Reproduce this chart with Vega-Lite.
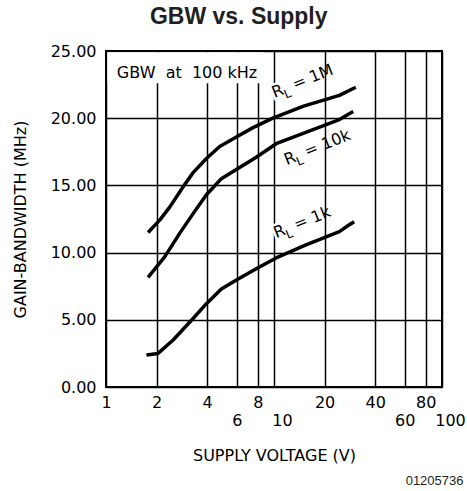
{
  "$schema": "https://vega.github.io/schema/vega-lite/v6.json",
  "width": 336,
  "height": 336,
  "autosize": {"type": "none"},
  "padding": {"left": 106, "top": 51, "right": 25, "bottom": 104},
  "background": "white",
  "title": {"text": "GBW vs. Supply", "font": "Liberation Sans", "fontSize": 23, "fontWeight": "bold", "color": "#231f20", "anchor": "middle", "frame": "bounds", "offset": 14},
  "config": {"view": {"stroke": "black", "strokeWidth": 2}, "font": "DejaVu Sans"},
  "datasets": {
    "curves": [
      {"RL": "1M", "v": 1.78, "gbw": 11.5},
      {"RL": "1M", "v": 2.1, "gbw": 12.45},
      {"RL": "1M", "v": 2.4, "gbw": 13.4},
      {"RL": "1M", "v": 2.88, "gbw": 14.9},
      {"RL": "1M", "v": 3.3, "gbw": 15.95},
      {"RL": "1M", "v": 3.96, "gbw": 17.0},
      {"RL": "1M", "v": 4.75, "gbw": 17.9},
      {"RL": "1M", "v": 5.97, "gbw": 18.6},
      {"RL": "1M", "v": 7.5, "gbw": 19.3},
      {"RL": "1M", "v": 9.84, "gbw": 20.0},
      {"RL": "1M", "v": 15.0, "gbw": 20.9},
      {"RL": "1M", "v": 24.5, "gbw": 21.7},
      {"RL": "1M", "v": 30.7, "gbw": 22.3},
      {"RL": "10k", "v": 1.78, "gbw": 8.16},
      {"RL": "10k", "v": 2.24, "gbw": 9.7},
      {"RL": "10k", "v": 2.75, "gbw": 11.45},
      {"RL": "10k", "v": 3.3, "gbw": 12.9},
      {"RL": "10k", "v": 3.96, "gbw": 14.3},
      {"RL": "10k", "v": 4.86, "gbw": 15.5},
      {"RL": "10k", "v": 7.84, "gbw": 17.1},
      {"RL": "10k", "v": 10.3, "gbw": 18.1},
      {"RL": "10k", "v": 24.5, "gbw": 19.9},
      {"RL": "10k", "v": 29.6, "gbw": 20.5},
      {"RL": "1k", "v": 1.74, "gbw": 2.38},
      {"RL": "1k", "v": 2.04, "gbw": 2.5},
      {"RL": "1k", "v": 2.51, "gbw": 3.5},
      {"RL": "1k", "v": 3.3, "gbw": 5.1},
      {"RL": "1k", "v": 3.96, "gbw": 6.2},
      {"RL": "1k", "v": 4.86, "gbw": 7.3},
      {"RL": "1k", "v": 5.97, "gbw": 7.96},
      {"RL": "1k", "v": 7.84, "gbw": 8.8},
      {"RL": "1k", "v": 10.3, "gbw": 9.6},
      {"RL": "1k", "v": 15.5, "gbw": 10.57},
      {"RL": "1k", "v": 24.5, "gbw": 11.56},
      {"RL": "1k", "v": 27.5, "gbw": 12.0},
      {"RL": "1k", "v": 30.0, "gbw": 12.3}
    ],
    "labels": [
      {"label": "= 1M", "v": 10.07, "gbw": 21.5},
      {"label": "= 10k", "v": 11.9, "gbw": 16.5},
      {"label": "= 1k", "v": 10.3, "gbw": 11.06}
    ],
    "note": [{"text": "GBW\u00a0 at\u00a0 100 kHz", "v": 1.16, "gbw": 23.0}],
    "box": [{"v": 1.02, "v2": 8.7, "gbw": 22.6, "gbw2": 24.9}]
  },
  "resolve": {"axis": {"x": "independent"}},
  "layer": [
    {
      "data": {"name": "box"},
      "mark": {"type": "rect", "fill": "white"},
      "encoding": {
        "x": {
          "field": "v", "type": "quantitative",
          "scale": {"type": "log", "domain": [1, 100], "nice": false},
          "axis": {
            "values": [1, 2, 4, 6, 8, 10, 20, 40, 60, 80, 100],
            "labelExpr": "datum.value",
            "grid": true, "gridColor": "black", "gridWidth": 1.5, "gridOpacity": 1,
            "ticks": false, "domain": false,
            "labelFont": "DejaVu Sans", "labelFontSize": 16, "labelColor": "black",
            "labelPadding": {"condition": {"test": "indexof([6,10,60,100], datum.value) >= 0", "value": 25}, "value": 7},
            "labelOffset": {"condition": {"test": "datum.value == 10 || datum.value == 100", "value": 8}, "value": 0},
            "labelFlush": false, "labelOverlap": false, "labelBound": false,
            "title": "SUPPLY VOLTAGE (V)", "titleFont": "DejaVu Sans", "titleFontSize": 16,
            "titleFontWeight": "normal", "titleColor": "black", "titlePadding": 19
          }
        },
        "x2": {"field": "v2"},
        "y": {
          "field": "gbw", "type": "quantitative",
          "scale": {"domain": [0, 25], "nice": false},
          "axis": {
            "values": [0, 5, 10, 15, 20, 25], "format": ".2f",
            "grid": true, "gridColor": "black", "gridWidth": 1.5, "gridOpacity": 1,
            "ticks": false, "domain": false,
            "labelFont": "DejaVu Sans", "labelFontSize": 16, "labelColor": "black", "labelPadding": 10,
            "title": "GAIN-BANDWIDTH (MHz)", "titleFont": "DejaVu Sans", "titleFontSize": 16,
            "titleFontWeight": "normal", "titleColor": "black", "titlePadding": 22
          }
        },
        "y2": {"field": "gbw2"}
      }
    },
    {
      "data": {"name": "curves"},
      "mark": {"type": "line", "color": "black", "strokeWidth": 3.5, "interpolate": "linear", "strokeJoin": "round"},
      "encoding": {
        "x": {"field": "v", "type": "quantitative", "axis": null},
        "y": {"field": "gbw", "type": "quantitative"},
        "detail": {"field": "RL"}
      }
    },
    {
      "data": {"name": "note"},
      "mark": {"type": "text", "align": "left", "baseline": "alphabetic", "font": "DejaVu Sans", "fontSize": 16, "color": "black"},
      "encoding": {
        "x": {
          "field": "v", "type": "quantitative",
          "axis": {
            "orient": "bottom", "labels": false, "ticks": false, "domain": false, "grid": false,
            "title": "01205736", "titleFont": "Liberation Sans", "titleFontSize": 13,
            "titleFontWeight": "normal", "titleColor": "#231f20",
            "titleX": 357, "titleY": 97, "titleAlign": "right", "titleBaseline": "alphabetic"
          }
        },
        "y": {"field": "gbw", "type": "quantitative"},
        "text": {"field": "text"}
      }
    },
    {
      "data": {"name": "labels"},
      "mark": {"type": "text", "align": "left", "baseline": "alphabetic", "font": "DejaVu Sans", "fontSize": 16, "angle": -22, "stroke": "white", "strokeWidth": 5, "color": "white"},
      "encoding": {
        "x": {"field": "v", "type": "quantitative", "axis": null},
        "y": {"field": "gbw", "type": "quantitative"},
        "text": {"value": "R"}
      }
    },
    {
      "data": {"name": "labels"},
      "mark": {"type": "text", "align": "left", "baseline": "alphabetic", "font": "DejaVu Sans", "fontSize": 12, "angle": -22, "dx": 10.5, "dy": 5, "stroke": "white", "strokeWidth": 5, "color": "white"},
      "encoding": {
        "x": {"field": "v", "type": "quantitative", "axis": null},
        "y": {"field": "gbw", "type": "quantitative"},
        "text": {"value": "L"}
      }
    },
    {
      "data": {"name": "labels"},
      "mark": {"type": "text", "align": "left", "baseline": "alphabetic", "font": "DejaVu Sans", "fontSize": 16, "angle": -22, "color": "black"},
      "encoding": {
        "x": {"field": "v", "type": "quantitative", "axis": null},
        "y": {"field": "gbw", "type": "quantitative"},
        "text": {"value": "R"}
      }
    },
    {
      "data": {"name": "labels"},
      "mark": {"type": "text", "align": "left", "baseline": "alphabetic", "font": "DejaVu Sans", "fontSize": 12, "angle": -22, "dx": 10.5, "dy": 5, "color": "black"},
      "encoding": {
        "x": {"field": "v", "type": "quantitative", "axis": null},
        "y": {"field": "gbw", "type": "quantitative"},
        "text": {"value": "L"}
      }
    },
    {
      "data": {"name": "labels"},
      "mark": {"type": "text", "align": "left", "baseline": "alphabetic", "font": "DejaVu Sans", "fontSize": 16, "angle": -22, "dx": 22, "color": "black"},
      "encoding": {
        "x": {"field": "v", "type": "quantitative", "axis": null},
        "y": {"field": "gbw", "type": "quantitative"},
        "text": {"field": "label"}
      }
    }
  ]
}
